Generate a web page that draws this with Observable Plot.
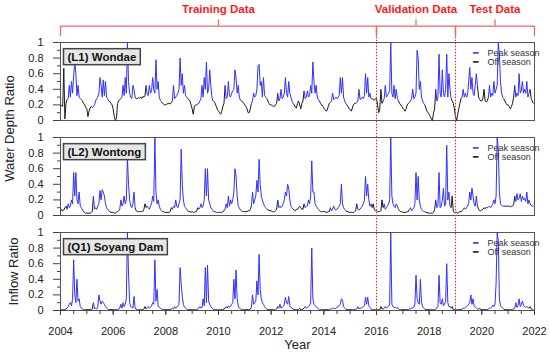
<!DOCTYPE html>
<html>
<head>
<meta charset="utf-8">
<style>
  html, body { margin: 0; padding: 0; background: #fff; }
  #chart { width: 550px; height: 355px; }
</style>
<script src="https://cdn.jsdelivr.net/npm/d3@7"></script>
<script src="https://cdn.jsdelivr.net/npm/@observablehq/plot@0.6"></script>
</head>
<body>
<div id="chart"></div>
<script>
// ---- data (values in percent of ratio, 24 samples per year, 2004-2021) ----
const years = d3.range(2004, 2022);
const panels = ["L1", "L2", "Q1"];
const panelNames = ["(L1) Wondae", "(L2) Wontong", "(Q1) Soyang Dam"];
const splits = [2004, 2016, 2019, 2022];
const splitNames = ["Training Data", "Validation Data", "Test Data"];
const xTicks = [2004, 2006, 2008, 2010, 2012, 2014, 2016, 2018, 2020, 2022];
const yTicks = [0, 0.2, 0.4, 0.6, 0.8, 1];
const yTickLabels = ["0", "0.2", "0.4", "0.6", "0.8", "1"];

const l1 = [
[18,20,18,67,2,22,27,28,45,30,50,35,57,75,60,32,45,30,28,27,25,22,20,17],
[15,5,12,16,18,17,18,20,25,28,30,35,55,45,30,52,32,50,30,28,25,24,22,20],
[15,5,0,3,22,25,27,28,30,45,32,55,35,100,50,35,30,28,45,40,30,28,28,29],
[29,30,28,31,30,32,45,33,32,45,35,38,55,40,35,78,40,50,30,26,24,22,21,20],
[20,21,22,22,21,23,25,45,28,30,32,35,40,80,45,60,35,45,32,30,28,27,25,20],
[15,8,18,20,20,21,22,25,28,45,30,55,40,75,35,40,65,45,30,25,24,22,18,14],
[12,10,8,12,18,22,45,28,30,50,32,30,35,38,40,65,55,35,45,30,26,25,24,22],
[20,18,15,10,10,15,22,25,35,30,32,40,70,72,45,50,30,55,32,30,28,25,22,20],
[20,19,18,18,20,22,35,25,28,40,28,30,35,55,35,30,50,35,30,25,22,20,17,16],
[22,25,20,15,22,25,38,28,30,38,30,32,45,35,75,50,35,45,30,27,25,22,20,18],
[16,14,12,13,18,22,23,25,35,27,28,30,28,30,32,55,35,55,30,25,22,20,18,15],
[14,12,16,20,22,22,23,25,40,27,28,30,28,32,60,35,55,30,35,28,28,27,26,28],
[28,20,10,15,40,22,25,28,45,30,32,35,38,100,35,30,45,28,40,28,25,22,20,18],
[16,14,12,15,20,22,23,25,28,40,28,30,35,90,80,40,50,30,25,22,20,16,12,10],
[8,5,2,0,10,15,40,25,30,85,35,30,65,35,30,40,85,30,60,40,28,25,22,15],
[5,0,8,15,22,28,30,40,30,35,30,32,50,68,40,55,35,32,45,60,45,30,27,25],
[25,28,40,25,24,25,30,45,30,35,32,50,35,40,45,100,85,50,35,30,28,25,22,20],
[20,18,15,18,22,30,45,30,35,32,60,35,38,50,35,40,35,50,30,35,40,28,25,22]
];

const l2 = [
[6,8,6,7,10,12,8,15,10,12,20,15,55,25,55,20,15,30,12,10,7,5,4,3],
[3,3,3,3,4,5,25,8,10,8,12,15,32,20,33,30,25,15,10,8,6,5,4,4],
[4,3,3,4,5,6,8,20,12,15,25,15,20,75,40,20,12,10,15,30,10,6,5,5],
[5,5,5,5,8,15,10,12,10,8,12,15,25,18,100,30,15,20,12,8,6,5,5,4],
[4,4,4,4,5,10,8,12,10,20,12,10,15,20,85,40,20,12,10,8,6,5,5,4],
[5,4,4,5,5,10,8,10,15,10,12,20,60,25,60,20,15,10,8,6,5,5,4,4],
[4,4,4,4,5,6,8,15,10,25,12,20,15,20,30,60,50,25,12,10,7,6,5,5],
[5,5,5,6,6,8,12,30,15,20,25,45,30,72,40,25,20,15,12,10,8,7,7,6],
[6,5,5,5,6,8,20,10,12,10,12,15,20,30,25,40,35,20,12,10,8,7,6,8],
[8,10,12,10,8,8,15,10,12,12,20,15,25,70,30,30,15,12,10,8,6,5,5,5],
[5,5,4,4,5,5,10,6,8,12,8,7,8,10,12,15,40,15,10,8,6,5,5,4],
[4,4,4,4,5,6,15,8,7,8,10,12,15,20,50,25,40,20,12,15,10,15,8,6],
[6,5,5,5,6,20,10,15,8,10,12,15,20,100,25,15,12,10,15,12,8,6,5,5],
[4,4,4,4,5,5,8,10,6,8,10,15,55,20,50,20,12,8,6,5,5,4,4,3],
[3,3,3,3,4,8,20,10,12,55,10,12,20,35,12,15,90,20,30,12,10,25,5,4],
[4,4,3,4,5,5,6,8,10,8,10,12,15,30,20,35,25,15,12,25,12,8,6,6],
[7,8,10,9,10,10,11,12,10,12,15,20,15,25,100,85,30,15,13,12,12,12,12,12],
[12,12,11,12,12,14,25,18,28,20,22,28,18,25,20,22,18,30,15,20,15,13,12,12]
];

const q1 = [
[1,1,1,1,1,2,3,5,8,10,6,15,65,20,10,40,12,15,5,3,2,1,1,1],
[1,1,1,1,1,2,10,2,3,2,4,20,12,8,12,10,8,5,3,2,1,1,1,1],
[1,1,1,1,1,2,3,8,3,10,5,8,15,100,48,10,5,4,3,18,3,2,1,1],
[1,1,1,1,2,5,2,3,5,3,4,6,10,8,65,12,27,6,4,3,2,1,1,1],
[1,1,1,1,1,2,3,2,5,3,4,6,8,55,35,18,8,4,3,2,1,1,1,1],
[1,1,1,1,1,2,3,5,3,4,15,6,55,10,58,12,8,5,3,2,1,1,1,1],
[1,1,1,1,1,2,3,5,3,6,4,5,8,10,40,15,52,15,6,3,2,1,1,1],
[1,1,1,1,1,2,4,20,8,10,12,38,20,72,27,15,10,8,5,3,2,1,1,1],
[1,1,1,1,1,2,5,3,8,3,4,5,8,17,10,8,18,6,4,3,2,1,1,1],
[1,1,3,1,1,2,3,5,3,4,5,6,10,80,15,8,6,5,3,2,1,1,1,1],
[1,1,1,1,1,1,2,2,3,3,2,3,4,5,6,8,15,13,5,3,2,1,1,1],
[1,1,1,1,1,1,2,5,2,3,3,4,5,6,17,8,17,6,4,2,1,1,1,1],
[1,1,1,1,5,2,2,3,5,3,4,5,8,100,8,5,4,4,3,4,2,1,1,1],
[1,1,1,1,1,1,2,2,3,3,4,8,45,15,10,8,40,10,5,3,2,1,1,1],
[1,1,1,1,1,1,2,3,5,45,10,8,15,6,8,12,60,10,5,5,3,5,1,1],
[1,1,1,1,1,1,2,3,3,4,5,6,8,10,20,8,15,6,4,3,2,2,3,1],
[1,1,1,1,1,1,2,3,3,4,7,5,8,35,100,90,15,6,4,3,2,1,1,1],
[1,1,1,1,1,2,3,10,4,6,15,5,8,12,6,5,4,5,4,3,5,2,1,1]
];

// ---- build segment table ----
function segments(series, panel) {
  const pts = [];
  series.forEach((row, yi) => row.forEach((v, k) => {
    pts.push({t: years[yi] + k / 24, v: v / 100, peak: k >= 6 && k <= 19});
  }));
  const segs = [];
  for (let i = 0; i < pts.length - 1; i++) {
    segs.push({panel, x1: pts[i].t, y1: pts[i].v, x2: pts[i + 1].t, y2: pts[i + 1].v, peak: pts[i].peak});
  }
  return segs;
}
const segs = [...segments(l1, "L1"), ...segments(l2, "L2"), ...segments(q1, "Q1")];

// bracket annotation (top panel only), built from the split years
const brLo = 1.09, brHi = 1.21, brTip = 1.29, labY = 1.42;
const brackets = [];
splits.slice(0, -1).forEach((a, i) => {
  const b = splits[i + 1];
  brackets.push({g: i, x: a, y: brLo}, {g: i, x: a, y: brHi}, {g: i, x: b, y: brHi}, {g: i, x: b, y: brLo});
});
const brMids = splits.slice(0, -1).map((a, i) => ({x: (a + splits[i + 1]) / 2, name: splitNames[i], panel: "L1"}));

const dotRows = [];
[2016, 2019].forEach(x => {
  dotRows.push({panel: "L1", x, y1: -0.22, y2: brLo});
  dotRows.push({panel: "L2", x, y1: -0.21, y2: 1});
  dotRows.push({panel: "Q1", x, y1: -0.03, y2: 1});
});

const labels = panels.map((p, i) => ({panel: p, name: panelNames[i]}));

const chart = Plot.plot({
  width: 550,
  height: 355,
  marginLeft: 60,
  marginRight: 16,
  marginTop: 42,
  marginBottom: 45,
  style: {fontFamily: "'Liberation Sans', Arial, sans-serif", fontSize: "11px", background: "#fff", color: "#222"},
  x: {domain: [2004, 2022]},
  y: {domain: [0, 1]},
  fy: {domain: panels, paddingInner: 0.18, paddingOuter: 0, axis: null, label: null},
  marks: [
    Plot.frame({stroke: "#555", strokeWidth: 1}),
    Plot.axisY({ticks: [0.1, 0.3, 0.5, 0.7, 0.9], tickSize: 3, text: null, label: null, stroke: "#444"}),
    Plot.axisY({ticks: yTicks, tickSize: 7, tickPadding: 10, tickFormat: (d, i) => yTickLabels[yTicks.indexOf(d)], label: null, fontSize: 11, stroke: "#444", fill: "#222"}),
    Plot.axisX({ticks: d3.range(2004, 2022.01, 0.5), tickSize: 4, text: null, label: null, stroke: "#444"}),
    Plot.axisX({ticks: xTicks, tickSize: 5, tickPadding: 12, tickFormat: d => String(d), label: null, fontSize: 11, stroke: "#444", fill: "#222"}),
    Plot.link(segs.filter(d => !d.peak), {x1: "x1", y1: "y1", x2: "x2", y2: "y2", fy: "panel", stroke: "#1a1a1a", strokeWidth: 1}),
    Plot.link(segs.filter(d => d.peak), {x1: "x1", y1: "y1", x2: "x2", y2: "y2", fy: "panel", stroke: "#3030ff", strokeWidth: 1}),
    Plot.ruleX(dotRows, {x: "x", y1: "y1", y2: "y2", fy: "panel", stroke: "#ff2020", strokeWidth: 1, strokeDasharray: "1.5,1.5"}),
    Plot.line(brackets, {x: "x", y: "y", z: "g", fy: () => "L1", stroke: "#f06868", strokeWidth: 1.3}),
    Plot.ruleX(brMids, {x: "x", y1: brHi, y2: brTip, fy: "panel", stroke: "#f06868", strokeWidth: 1.3}),
    Plot.text(brMids, {x: "x", y: labY, text: "name", fy: "panel", fill: "#ff1a1a", fontWeight: "bold", fontSize: 11.5}),
    Plot.text(labels, {text: "name", fy: "panel", frameAnchor: "top-left", dx: 7, dy: 10, textAnchor: "start", fontWeight: "bold", fontSize: 11.5, fill: "#111"}),
    Plot.text(labels, {text: () => "━", fy: "panel", frameAnchor: "top-right", dx: -57, dy: 7, fill: "#3030ff", fontSize: 9}),
    Plot.text(labels, {text: () => "━", fy: "panel", frameAnchor: "top-right", dx: -57, dy: 16, fill: "#111", fontSize: 9}),
    Plot.text(labels, {text: () => "Peak season", fy: "panel", frameAnchor: "top-right", dx: -47, dy: 7, textAnchor: "start", fill: "#333", fontSize: 9}),
    Plot.text(labels, {text: () => "Off season", fy: "panel", frameAnchor: "top-right", dx: -47, dy: 16, textAnchor: "start", fill: "#333", fontSize: 9}),
    Plot.text(["Water Depth Ratio"], {fy: ["L1"], frameAnchor: "bottom-left", dx: -47, dy: 8, rotate: -90, textAnchor: "middle", fontSize: 13, fill: "#222"}),
    Plot.text(["Inflow Ratio"], {fy: ["Q1"], frameAnchor: "left", dx: -47, rotate: -90, textAnchor: "middle", fontSize: 13, fill: "#222"}),
    Plot.text(["Year"], {fy: ["Q1"], frameAnchor: "bottom", dy: 38, textAnchor: "middle", fontSize: 13, fill: "#222"})
  ]
});
document.getElementById("chart").appendChild(chart);

// boxes behind the panel name labels
const svg = chart.tagName.toLowerCase() === "svg" ? chart : chart.querySelector("svg");
svg.querySelectorAll("text").forEach(t => {
  if (panelNames.includes(t.textContent)) {
    const bb = t.getBBox();
    const r = document.createElementNS("http://www.w3.org/2000/svg", "rect");
    r.setAttribute("x", bb.x - 4);
    r.setAttribute("y", bb.y - 2);
    r.setAttribute("width", bb.width + 8);
    r.setAttribute("height", bb.height + 4);
    r.setAttribute("fill", "#e6e6e6");
    r.setAttribute("stroke", "#444");
    r.setAttribute("stroke-width", "1.5");
    if (t.getAttribute("transform")) r.setAttribute("transform", t.getAttribute("transform"));
    t.parentNode.insertBefore(r, t);
  }
});
</script>
</body>
</html>
